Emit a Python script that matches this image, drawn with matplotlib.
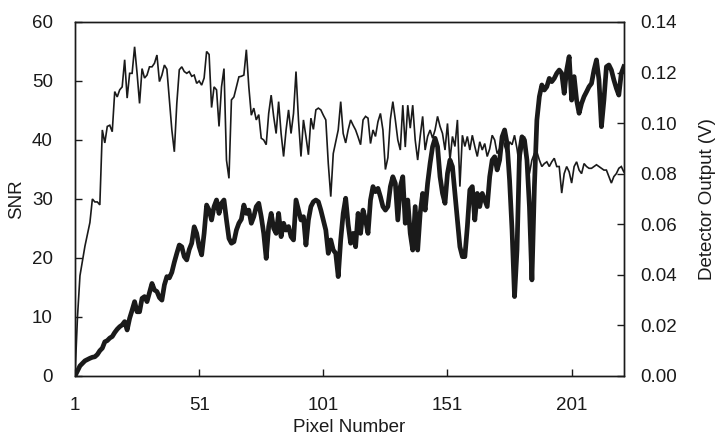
import matplotlib
matplotlib.use("Agg")
import matplotlib.pyplot as plt

plt.rcParams['font.family'] = ['Liberation Sans', 'DejaVu Sans']

snr = [0, 10, 17, 19.5, 22, 24, 26, 30, 29.5, 29.5,
       29, 41.7, 39.5, 42.3, 42.5, 41.4, 48.2, 47.3, 48.5, 49,
       53.6, 47.1, 51.3, 51.3, 55.8, 51.3, 46.2, 52.1, 50.5, 51,
       52.4, 52.4, 53, 54.4, 49.9, 51, 52.7, 52, 46.8, 41.7,
       38, 46.2, 51.9, 52.4, 51.6, 51.3, 51.6, 50.8, 51, 49.6,
       50, 49.3, 50.5, 55, 54.5, 45.5, 49, 48.5, 42.3, 49,
       52.1, 36.6, 33.5, 46.8, 47.3, 49, 50.7, 50.8, 51, 55.3,
       49, 44.2, 45.4, 43.4, 44.3, 40.3, 40, 39.2, 44.5, 47.6,
       44, 41.1, 46.5, 41.1, 37.2, 41.7, 45.1, 41.1, 44.5, 51.6,
       43.4, 37.2, 43.4, 40.6, 37.5, 43.7, 41.8, 45.1, 45.4, 45.1,
       44.2, 43.4, 36, 30.4, 37.7, 39.7, 41.7, 46.5, 41.1, 39.5,
       41.7, 43.4, 42.5, 41.7, 40.5, 39.2, 43.4, 44, 43.7, 39.4,
       41.7, 40.6, 43.1, 44.5, 41.7, 35, 37, 43.5, 46.5, 43.4,
       40, 38.3, 45.9, 38.8, 45.9, 42, 45.9, 40, 36.6, 40.6,
       44, 38.3, 40.6, 41.7, 40.3, 41.7, 44, 42.3, 41.1, 38.3,
       42.8, 36.6, 40.6, 38.9, 43.4, 32.1, 40.8, 38.9, 40.6, 38.3,
       40.8, 38.9, 37.2, 39.7, 38.3, 39.4, 37.2, 38.5, 40.8, 40,
       37.7, 38.5, 41.1, 39, 37.7, 39.7, 39.2, 40.8, 38.5, 35.5,
       38.3, 40.6, 37.7, 34.3, 36.6, 37.7, 38, 36.6, 35.5, 36,
       36.3, 35.5, 36.3, 36.9, 35.5, 35.5, 31, 34.3, 35.5, 34.6,
       32.7, 35.5, 36.3, 34.9, 34.3, 36, 35.5, 35.2, 35.2, 35.5,
       35.8, 35.5, 35.2, 34.9, 34.9, 33.8, 32.7, 33.8, 34.3, 35.2,
       35.5, 34.6]

detector_v = [0.0, 0.002, 0.004, 0.005, 0.006, 0.0065, 0.007, 0.0074, 0.0076, 0.0085,
              0.010, 0.011, 0.0135, 0.014, 0.015, 0.0156, 0.0172, 0.0185, 0.0195, 0.0202,
              0.0215, 0.0182, 0.0228, 0.026, 0.0294, 0.0254, 0.0254, 0.0307, 0.0314, 0.0294,
              0.033, 0.0366, 0.034, 0.0334, 0.031, 0.030, 0.036, 0.0393, 0.0388, 0.041,
              0.045, 0.0485, 0.0518, 0.0511, 0.0472, 0.0459, 0.050, 0.0525, 0.059, 0.0564,
              0.0511, 0.0479, 0.0564, 0.0676, 0.0656, 0.0617, 0.067, 0.0696, 0.0643, 0.0683,
              0.0696, 0.0617, 0.0544, 0.0525, 0.0531, 0.0577, 0.0604, 0.062, 0.0676, 0.0643,
              0.0656, 0.0604, 0.063, 0.067, 0.0683, 0.063, 0.0564, 0.0465, 0.0591, 0.0643,
              0.0584, 0.0564, 0.0643, 0.0551, 0.0604, 0.0577, 0.0591, 0.0551, 0.0538, 0.0696,
              0.0656, 0.0617, 0.063, 0.0518, 0.0617, 0.067, 0.0689, 0.0696, 0.0689, 0.0656,
              0.0617, 0.0577, 0.0485, 0.0538, 0.0498, 0.0485, 0.0393, 0.0538, 0.0643, 0.0703,
              0.060, 0.0525, 0.0564, 0.0511, 0.0643, 0.0564, 0.0656, 0.0617, 0.0564, 0.0696,
              0.0749, 0.0729, 0.0742, 0.0709, 0.067, 0.0656, 0.067, 0.0749, 0.0788, 0.0762,
              0.0617, 0.0749, 0.0788, 0.0604, 0.0696, 0.0564, 0.0498, 0.067, 0.0498, 0.0643,
              0.0722, 0.0656, 0.0762, 0.0841, 0.0907, 0.094, 0.0907, 0.0788, 0.0722, 0.0683,
              0.0801, 0.0854, 0.0828, 0.0722, 0.0617, 0.0511, 0.0472, 0.0472, 0.0591, 0.0736,
              0.0749, 0.0617, 0.0722, 0.067, 0.0722, 0.0696, 0.067, 0.0788, 0.0854, 0.0867,
              0.0815, 0.0854, 0.0946, 0.0973, 0.092, 0.0775, 0.0577, 0.0314, 0.050, 0.0881,
              0.0946, 0.0933, 0.0854, 0.067, 0.038, 0.0749, 0.1012, 0.1105, 0.1151, 0.1131,
              0.1144, 0.1177, 0.1164, 0.1177, 0.1197, 0.121, 0.1197, 0.1118, 0.121, 0.1263,
              0.1091, 0.1184, 0.1091, 0.1039, 0.1078, 0.1105, 0.1124, 0.1144, 0.1157, 0.121,
              0.125, 0.1171, 0.0986, 0.1091, 0.1223, 0.123, 0.121, 0.1171, 0.1138, 0.1111,
              0.1197, 0.1223]

pixel_number = list(range(1, len(snr) + 1))

x_ticks = [1, 51, 101, 151, 201]
snr_ticks = [0, 10, 20, 30, 40, 50, 60]
v_ticks = [0.00, 0.02, 0.04, 0.06, 0.08, 0.10, 0.12, 0.14]

fig = plt.figure(figsize=(7.17, 4.38), dpi=100)
ax = fig.add_axes([0.1046, 0.1416, 0.7654, 0.8082])
ax2 = ax.twinx()

ink = '#1a1a1a'
ax.plot(pixel_number, snr, color=ink, lw=1.2, solid_joinstyle='miter')
ax2.plot(pixel_number, detector_v, color=ink, lw=3.4, solid_joinstyle='round')

ax.set_xlim(1, 222)
ax.set_ylim(0, 60)
ax2.set_ylim(0, 0.14)

ax.set_xticks(x_ticks)
ax.set_yticks(snr_ticks)
ax2.set_yticks(v_ticks)
ax2.set_yticklabels([f"{v:.2f}" for v in v_ticks])

fs = 13.5
ax.tick_params(axis='x', direction='in', length=5, width=1, pad=15, labelsize=fs, colors=ink)
ax.tick_params(axis='y', direction='in', length=5, width=1, pad=16, labelsize=fs, colors=ink)
ax2.tick_params(axis='y', direction='in', length=5, width=1, pad=12, labelsize=fs, colors=ink)

for a in (ax, ax2):
    for s in a.spines.values():
        s.set_linewidth(1.0)
        s.set_color(ink)

ax.set_xlabel('Pixel Number', fontsize=fs, color=ink, labelpad=4)
ax.set_ylabel('SNR', fontsize=fs, color=ink, labelpad=5)
ax2.set_ylabel('Detector Output (V)', fontsize=fs, color=ink, labelpad=16)

fig.savefig('out.png', dpi=100, facecolor='white')
